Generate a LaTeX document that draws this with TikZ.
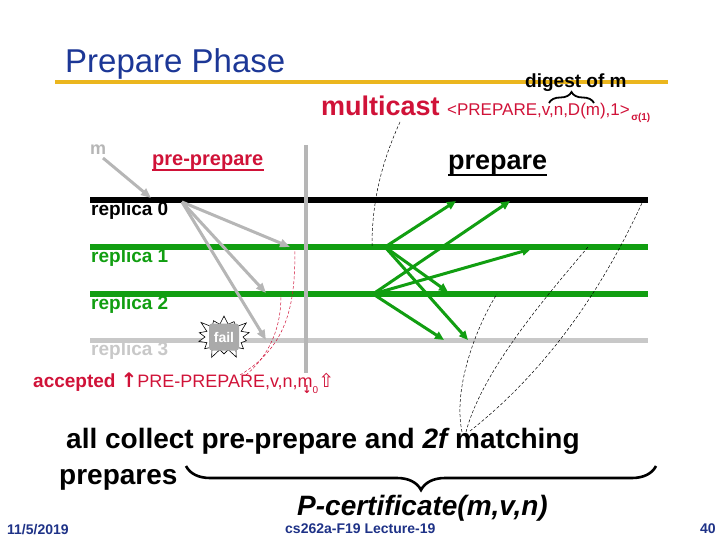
\documentclass[tikz,border=0pt]{standalone}
\usepackage{fontspec}
\setmainfont{Liberation Sans}
\newfontfamily\symfont{DejaVu Sans}
\usetikzlibrary{arrows.meta,decorations.pathreplacing,shapes.symbols,positioning}
\definecolor{titleblue}{RGB}{28,55,150}
\definecolor{footblue}{RGB}{30,50,135}
\definecolor{rulegold}{RGB}{235,182,30}
\definecolor{msgred}{RGB}{208,18,56}
\definecolor{repgreen}{RGB}{17,158,17}
\definecolor{deadgray}{RGB}{200,200,200}
\definecolor{arrgray}{RGB}{182,182,182}
\definecolor{failgray}{RGB}{170,170,170}
\newcommand{\txtsize}[1]{\fontsize{#1}{#1}\selectfont}
\begin{document}
\begin{tikzpicture}[x=1pt,y=-1pt,
  lbl/.style={inner sep=0pt,anchor=base west},
  ppmsg/.style={arrgray,line width=3pt,-{Triangle[length=10pt,width=8pt]}},
  pmsg/.style={repgreen,line width=3pt,-{Triangle[length=9pt,width=8pt]}},
  note/.style={dash pattern=on 3pt off 2pt,line width=0.5pt}]
\useasboundingbox (0,0) rectangle (720,540);
\node[lbl,text=titleblue,font=\txtsize{33}] (title) at (65,73) {Prepare Phase};
\draw[rulegold,line width=4pt] (55,82) -- (668,82);
\node[lbl,font=\bfseries\txtsize{19}] (digest) at (525,88) {digest of m};
\draw[decorate,decoration={brace,amplitude=11pt},line width=1.8pt] (549,103) -- (594,103);
\node[lbl,text=msgred,font=\bfseries\txtsize{27}] (mcast) at (321,116) {multicast};
\node[lbl,text=msgred,font=\txtsize{17}] (msg) at (447,116) {<PREPARE,v,n,D(m),1>};
\node[lbl,text=msgred,font=\bfseries\txtsize{10},xshift=1pt,yshift=-5pt] (sig) at (msg.base east) {σ(1)};
\node[lbl,text=arrgray,font=\bfseries\txtsize{18}] (m) at (90,155) {m};
\node[lbl,text=msgred,font=\bfseries\txtsize{20}] (ppre) at (152,166) {pre-prepare};
\draw[msgred,line width=1.5pt] ([yshift=-4pt]ppre.base west) -- ([yshift=-4pt]ppre.base east);
\node[lbl,font=\bfseries\txtsize{27}] (prep) at (448,170) {prepare};
\draw[line width=1.8pt] ([yshift=-5pt]prep.base west) -- ([yshift=-5pt]prep.base east);
\foreach \i/\yy/\col/\lw in {0/200/black/5.5,1/247/repgreen/6,2/294/repgreen/6,3/340/deadgray/5}{
  \coordinate (w\i) at (90,\yy);
  \coordinate (e\i) at (648,\yy);
  \draw[\col,line width=\lw pt] (w\i) -- (e\i);
  \node[lbl,text=\col,font=\bfseries\txtsize{19}] (rep\i) at (91,{\yy+15}) {replica \i};
}
\coordinate (vtop) at (306,145);
\coordinate (vbot) at (306,373);
\draw[arrgray,line width=4pt] (vtop) -- (vbot);
\coordinate (msrc) at (103,158);
\coordinate (mdst) at (151,198);
\coordinate (src0) at (182,202);
\coordinate (hit1) at (290,247);
\coordinate (hit2) at (266,293);
\coordinate (hit3) at (266,340);
\draw[ppmsg] (msrc) -- (mdst);
\foreach \j in {1,2,3} \draw[ppmsg] (src0) -- (hit\j);
\node[starburst,draw=black,fill=white,line width=0.6pt,minimum width=60pt,minimum height=48pt,starburst points=14,starburst point height=11pt] (burst) at (224,337) {};
\node[fill=failgray,rounded corners=3pt,text=white,font=\bfseries\txtsize{14},minimum width=30pt,minimum height=27pt,inner sep=0pt] (fail) at (burst) {fail};
\coordinate (src1) at (385,247);
\coordinate (src2) at (373,294);
\coordinate (a10) at (456,201);
\coordinate (a12) at (448,292);
\coordinate (a13) at (468,340);
\coordinate (a20) at (510,201);
\coordinate (a21) at (531,249);
\coordinate (a23) at (444,340);
\foreach \s/\t in {1/0,1/2,1/3,2/0,2/1,2/3} \draw[pmsg] (src\s) -- (a\s\t);
\coordinate (mc) at (400,122);
\coordinate (mcend) at (372,246);
\draw[note] (mc) .. controls (378,170) and (372,210) .. (mcend);
\node[lbl,text=msgred,font=\txtsize{18}] (acc) at (33,387) {{\bfseries\txtsize{19}accepted} {\symfont\bfseries\txtsize{20}↑}PRE-PREPARE,v,n,m\llap{\raisebox{-6pt}{\symfont\bfseries\txtsize{11}↓}\hspace{1pt}}\raisebox{-6pt}{\txtsize{10}0}{\symfont\txtsize{19}⇧}};
\coordinate (acc1) at (240,375);
\coordinate (acc2) at (246,375);
\coordinate (ok1) at (295,249);
\coordinate (ok2) at (281,295);
\draw[note,msgred] (acc1) .. controls (290,345) and (295,300) .. (ok1);
\draw[note,msgred] (acc2) .. controls (275,350) and (281,320) .. (ok2);
\node[lbl,font=\bfseries\txtsize{28}] (collect) at (66,448) {all collect pre-prepare and {\itshape 2f} matching};
\node[lbl,font=\bfseries\txtsize{28}] (preps) at (59,484) {prepares};
\coordinate (fan2) at (462,432);
\coordinate (fan1) at (466,432);
\coordinate (fan0) at (470,431);
\coordinate (d2) at (497,294);
\coordinate (d1) at (588,247);
\coordinate (d0) at (642,203);
\draw[note] (fan2) .. controls (452,385) and (480,320) .. (d2);
\draw[note] (fan1) .. controls (482,370) and (550,292) .. (d1);
\draw[note] (fan0) .. controls (560,360) and (612,268) .. (d0);
\coordinate (bl) at (186,466);
\coordinate (br) at (656,466);
\draw[decorate,decoration={brace,mirror,amplitude=24pt},line width=2.6pt] (bl) -- (br);
\node[lbl,font=\bfseries\itshape\txtsize{28}] (pcert) at (297,515) {P-certificate(m,v,n)};
\node[lbl,text=footblue,font=\bfseries\txtsize{14}] (date) at (7,534) {11/5/2019};
\node[lbl,text=footblue,font=\bfseries\txtsize{14}] (course) at (285,533) {cs262a-F19 Lecture-19};
\node[lbl,text=footblue,font=\bfseries\txtsize{14}] (page) at (700,533) {40};
\end{tikzpicture}
\end{document}
